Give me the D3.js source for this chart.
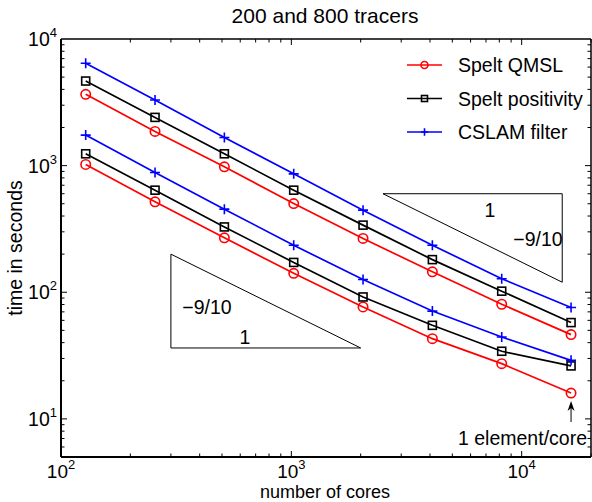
<!DOCTYPE html>
<html><head><meta charset="utf-8">
<script src="https://cdn.jsdelivr.net/npm/d3@7"></script>
<style>body{margin:0;background:#fff}svg{display:block}text{font-family:"Liberation Sans",Arial,sans-serif;fill:#000}</style>
</head><body><svg id="c" width="592" height="502"></svg>
<script>
const cores = [128, 256, 512, 1024, 2048, 4096, 8192, 16384];
const seriesNames = ["Spelt QMSL", "Spelt positivity", "CSLAM filter"];
const qmsl800 = [3656, 1862, 979, 502, 266, 145, 80.4, 46.3];
const pos800 = [4656, 2404, 1240, 640, 339, 181, 102, 57.6];
const cslam800 = [6430, 3300, 1670, 861, 445, 235, 128, 75.7];
const qmsl200 = [1021, 518, 269, 141, 76.5, 43, 27.3, 16.0];
const pos200 = [1240, 640, 328, 172, 91.8, 54.8, 34.2, 26.2];
const cslam200 = [1742, 883, 453, 235, 126, 71, 44.3, 29];
const xTicks = [100, 1000, 10000];
const yTicks = [10, 100, 1000, 10000];
const triLow = [[300, 200], [300, 36.3], [2000, 36.3]];
const triHigh = [[2500, 600], [15000, 600], [15000, 120]];

const svg = d3.select("#c");
const L = 61, R = 591, T = 39, B = 457;
const x = d3.scaleLog().domain([100, 20000]).range([L, R]);
const y = d3.scaleLog().domain([5, 10000]).range([B, T]);

// minor ticks
const minorX = [], minorY = [];
for (let d = 100; d < 20000; d *= 10) for (let k = 1; k < 10; k++) { const v = d * k; if (v <= 20000) minorX.push(v); }
for (let d = 1; d < 10000; d *= 10) for (let k = 1; k < 10; k++) { const v = d * k; if (v >= 5 && v <= 10000) minorY.push(v); }
const g = svg.append("g");
minorX.forEach(v => {
  const len = xTicks.includes(v) ? 6 : 3.5;
  g.append("line").attr("x1", x(v)).attr("x2", x(v)).attr("y1", B).attr("y2", B - len).attr("stroke", "#000");
  g.append("line").attr("x1", x(v)).attr("x2", x(v)).attr("y1", T).attr("y2", T + len).attr("stroke", "#000");
});
minorY.forEach(v => {
  const len = yTicks.includes(v) ? 6 : 3.5;
  g.append("line").attr("y1", y(v)).attr("y2", y(v)).attr("x1", L).attr("x2", L + len).attr("stroke", "#000");
  g.append("line").attr("y1", y(v)).attr("y2", y(v)).attr("x1", R).attr("x2", R - len).attr("stroke", "#000");
});
// box
g.append("line").attr("x1", L).attr("x2", R).attr("y1", T).attr("y2", T).attr("stroke", "#000").attr("stroke-width", 1.5);
g.append("line").attr("x1", R).attr("x2", R).attr("y1", T).attr("y2", B).attr("stroke", "#000").attr("stroke-width", 1.5);
g.append("line").attr("x1", L).attr("x2", R).attr("y1", B).attr("y2", B).attr("stroke", "#000").attr("stroke-width", 2);
g.append("line").attr("x1", L).attr("x2", L).attr("y1", T).attr("y2", B).attr("stroke", "#000").attr("stroke-width", 2);

// tick labels
const exp = v => Math.round(Math.log10(v));
xTicks.forEach(v => {
  const t = svg.append("text").attr("x", x(v)).attr("y", 477.5).attr("text-anchor", "middle").style("font-size", "19px");
  t.append("tspan").text("10");
  t.append("tspan").attr("dy", -9).style("font-size", "13px").text(exp(v));
});
yTicks.forEach(v => {
  const t = svg.append("text").attr("x", 57).attr("y", y(v) + 7).attr("text-anchor", "end").style("font-size", "19.5px");
  t.append("tspan").text("10");
  t.append("tspan").attr("dy", -9).style("font-size", "13px").text(exp(v));
});

// title and labels
svg.append("text").attr("x", 325).attr("y", 23).attr("text-anchor", "middle").style("font-size", "21px").text("200 and 800 tracers");
svg.append("text").attr("x", 325).attr("y", 498).attr("text-anchor", "middle").style("font-size", "18px").text("number of cores");
svg.append("text").attr("transform", "translate(22,248) rotate(-90)").attr("text-anchor", "middle").style("font-size", "19.5px").text("time in seconds");

// triangles
function tri(pts) {
  svg.append("path").attr("d", d3.line().x(d => x(d[0])).y(d => y(d[1])).curve(d3.curveLinearClosed)(pts))
    .attr("fill", "none").attr("stroke", "#000").attr("stroke-width", 1);
}
tri(triLow); tri(triHigh);
svg.append("text").attr("x", 207).attr("y", 314).attr("text-anchor", "middle").style("font-size", "19.5px").text("\u22129/10");
svg.append("text").attr("x", 245).attr("y", 344).attr("text-anchor", "middle").style("font-size", "19.5px").text("1");
svg.append("text").attr("x", 490).attr("y", 217).attr("text-anchor", "middle").style("font-size", "19.5px").text("1");
svg.append("text").attr("x", 538).attr("y", 246).attr("text-anchor", "middle").style("font-size", "19.5px").text("\u22129/10");

// series
const colors = ["#ff0000", "#000000", "#0000ff"];
const groups = [[qmsl800, pos800, cslam800], [qmsl200, pos200, cslam200]];
const line = d3.line().x((d, i) => x(cores[i])).y(d => y(d));
function marker(sel, type, cx, cy, c, s) {
  if (type === 0) sel.append("circle").attr("cx", cx).attr("cy", cy).attr("r", 4.7 * s).attr("fill", "none").attr("stroke", c).attr("stroke-width", 1.6);
  else if (type === 1) sel.append("rect").attr("x", cx - 4 * s).attr("y", cy - 4 * s).attr("width", 8 * s).attr("height", 8 * s).attr("fill", "none").attr("stroke", c).attr("stroke-width", 1.6);
  else sel.append("path").attr("d", `M${cx - 5 * s},${cy}H${cx + 5 * s}M${cx},${cy - 5 * s}V${cy + 5 * s}`).attr("stroke", c).attr("stroke-width", 1.6);
}
groups.forEach(grp => grp.forEach((vals, si) => {
  svg.append("path").attr("d", line(vals)).attr("fill", "none").attr("stroke", colors[si]).attr("stroke-width", 1.7);
  vals.forEach((v, i) => marker(svg, si, x(cores[i]), y(v), colors[si], 1));
}));

// legend
seriesNames.forEach((n, i) => {
  const ly = 65 + i * 33.5;
  svg.append("line").attr("x1", 407).attr("x2", 442).attr("y1", ly).attr("y2", ly).attr("stroke", colors[i]).attr("stroke-width", 1.7);
  marker(svg, i, 424.5, ly, colors[i], 0.75);
  svg.append("text").attr("x", 458).attr("y", ly + 7).style("font-size", "19.5px").text(n);
});

// annotation
const ax = x(16384);
svg.append("line").attr("x1", ax).attr("x2", ax).attr("y1", 422).attr("y2", 405).attr("stroke", "#000").attr("stroke-width", 1);
svg.append("path").attr("d", `M${ax},401 L${ax - 3.5},411 L${ax},408 L${ax + 3.5},411 Z`).attr("fill", "#000");
svg.append("text").attr("x", 587).attr("y", 445).attr("text-anchor", "end").style("font-size", "19.5px").text("1 element/core");
</script></body></html>
